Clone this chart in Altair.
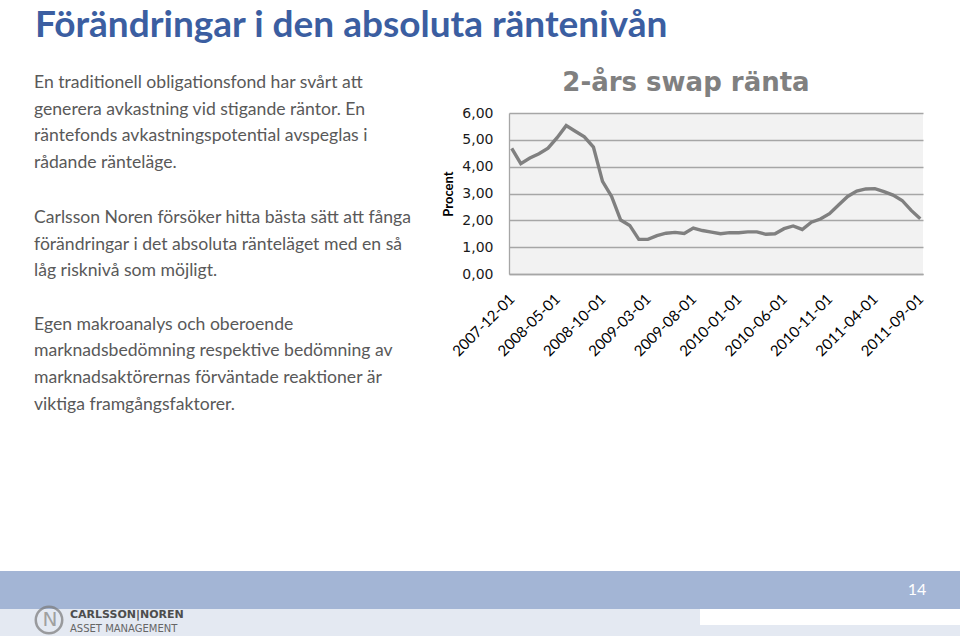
import altair as alt
import pandas as pd

# ---- data ----
months = [
    "2007-12-01", "2008-01-01", "2008-02-01", "2008-03-01", "2008-04-01", "2008-05-01",
    "2008-06-01", "2008-07-01", "2008-08-01", "2008-09-01", "2008-10-01", "2008-11-01",
    "2008-12-01", "2009-01-01", "2009-02-01", "2009-03-01", "2009-04-01", "2009-05-01",
    "2009-06-01", "2009-07-01", "2009-08-01", "2009-09-01", "2009-10-01", "2009-11-01",
    "2009-12-01", "2010-01-01", "2010-02-01", "2010-03-01", "2010-04-01", "2010-05-01",
    "2010-06-01", "2010-07-01", "2010-08-01", "2010-09-01", "2010-10-01", "2010-11-01",
    "2010-12-01", "2011-01-01", "2011-02-01", "2011-03-01", "2011-04-01", "2011-05-01",
    "2011-06-01", "2011-07-01", "2011-08-01", "2011-09-01",
]
swap_rate = [
    4.68, 4.11, 4.32, 4.48, 4.69, 5.08, 5.53, 5.32, 5.11, 4.73, 3.45, 2.89,
    2.01, 1.81, 1.29, 1.29, 1.43, 1.52, 1.55, 1.51, 1.71, 1.62, 1.56, 1.50,
    1.54, 1.54, 1.57, 1.57, 1.48, 1.50, 1.69, 1.79, 1.66, 1.93, 2.05, 2.25,
    2.57, 2.89, 3.09, 3.17, 3.18, 3.07, 2.94, 2.74, 2.37, 2.06,
]
tick_labels = ["2007-12-01", "2008-05-01", "2008-10-01", "2009-03-01", "2009-08-01",
               "2010-01-01", "2010-06-01", "2010-11-01", "2011-04-01", "2011-09-01"]
y_ticks = [0, 1, 2, 3, 4, 5, 6]

slide_title = "Förändringar i den absoluta räntenivån"
chart_title = "2-års swap ränta"
y_title = "Procent"
para1 = ["En traditionell obligationsfond har svårt att",
         "generera avkastning vid stigande räntor. En",
         "räntefonds avkastningspotential avspeglas i",
         "rådande ränteläge."]
para2 = ["Carlsson Noren försöker hitta bästa sätt att fånga",
         "förändringar i det absoluta ränteläget med en så",
         "låg risknivå som möjligt."]
para3 = ["Egen makroanalys och oberoende",
         "marknadsbedömning respektive bedömning av",
         "marknadsaktörernas förväntade reaktioner är",
         "viktiga framgångsfaktorer."]
page_number = "14"
logo_line1 = "CARLSSON|NOREN"
logo_line2 = "ASSET MANAGEMENT"

df = pd.DataFrame({"month": months, "rate": swap_rate})
one = pd.DataFrame({"k": [0]})

# plot area origin in page pixels
OX, OY = 509, 113

line = alt.Chart(df).mark_line(color="#808080", strokeWidth=3.4).encode(
    x=alt.X("month:O", sort=months,
            scale=alt.Scale(type="point", padding=0.3),
            axis=alt.Axis(values=tick_labels, title=None, labelAngle=-45,
                          labelAlign="right", labelBaseline="middle",
                          labelFont="Lato", labelFontSize=15, labelColor="#000000",
                          labelPadding=22, ticks=False, domain=True,
                          domainColor="#a6a6a6", domainWidth=1.3, grid=False)),
    y=alt.Y("rate:Q", scale=alt.Scale(domain=[0, 6], nice=False),
            axis=alt.Axis(values=y_ticks, title=y_title,
                          labelExpr="replace(format(datum.value, '.2f'), '.', ',')",
                          labelFont="DejaVu Sans", labelFontSize=14, labelColor="#1a1a1a",
                          labelPadding=16, ticks=False, domain=True,
                          domainColor="#a6a6a6", domainWidth=1.3,
                          grid=True, gridColor="#a6a6a6", gridWidth=1.3,
                          titleFont="Lato", titleFontWeight="bold", titleFontSize=13,
                          titleColor="#000000", titlePadding=6)),
)

def txt(lines, x, y, **kw):
    return alt.Chart(one).mark_text(text=lines, align="left", baseline="alphabetic",
                                    **kw).encode(x=alt.value(x), y=alt.value(y))

title_mark = txt(slide_title, 35 - OX, 37 - OY, font="Lato", fontWeight="bold",
                 fontSize=37, color="#3b5ea1")
ctitle = alt.Chart(one).mark_text(text=chart_title, align="center", baseline="alphabetic",
                                  font="DejaVu Sans", fontWeight="bold", fontSize=26,
                                  color="#808080").encode(
    x=alt.value(686 - OX), y=alt.value(91 - OY))

body_kw = dict(font="Lato", fontSize=17.6, color="#595959", lineHeight=26.7)
p1 = txt(para1, 34 - OX, 88 - OY, **body_kw)
p2 = txt(para2, 34 - OX, 223 - OY, **body_kw)
p3 = txt(para3, 34 - OX, 329.5 - OY, **body_kw)

def rect(x1, x2, y1, y2, color):
    return alt.Chart(one).mark_rect(color=color).encode(
        x=alt.value(x1 - OX), x2=alt.value(x2 - OX),
        y=alt.value(y1 - OY), y2=alt.value(y2 - OY))

light_left = rect(0, 700, 604, 636, "#e4e9f2")
light_right = rect(700, 960, 625, 636, "#e4e9f2")
band = rect(0, 960, 571, 609, "#a3b5d5")

page_no = alt.Chart(one).mark_text(text=page_number, align="center", baseline="middle",
                                   font="Lato", fontSize=16, color="#ffffff").encode(
    x=alt.value(917 - OX), y=alt.value(590 - OY))

logo_ring = alt.Chart(one).mark_point(shape="circle", size=700, filled=False,
                                      color="#7a7a7a", strokeWidth=2.5).encode(
    x=alt.value(49 - OX), y=alt.value(620 - OY))
logo_n = alt.Chart(one).mark_text(text="N", align="center", baseline="middle",
                                  font="DejaVu Sans", fontSize=20, color="#a0a0a0").encode(
    x=alt.value(50 - OX), y=alt.value(620 - OY))
logo_t1 = txt(logo_line1, 70 - OX, 618 - OY, font="DejaVu Sans", fontWeight="bold",
              fontSize=11, color="#4d4d4d")
logo_t2 = txt(logo_line2, 70 - OX, 632 - OY, font="DejaVu Sans", fontSize=10,
              color="#666666")

chart = alt.layer(
    line, title_mark, ctitle, p1, p2, p3,
    light_left, light_right, band, page_no, logo_ring, logo_n, logo_t1, logo_t2,
).properties(
    width=414, height=161,
    padding={"left": OX, "top": OY, "right": 960 - OX - 414, "bottom": 636 - OY - 161},
    autosize=alt.AutoSizeParams(type="none"),
    background="#ffffff",
).configure_view(stroke=None, fill="#f2f2f2")

chart.save("out.html", embed_options={"renderer": "svg", "actions": False})
